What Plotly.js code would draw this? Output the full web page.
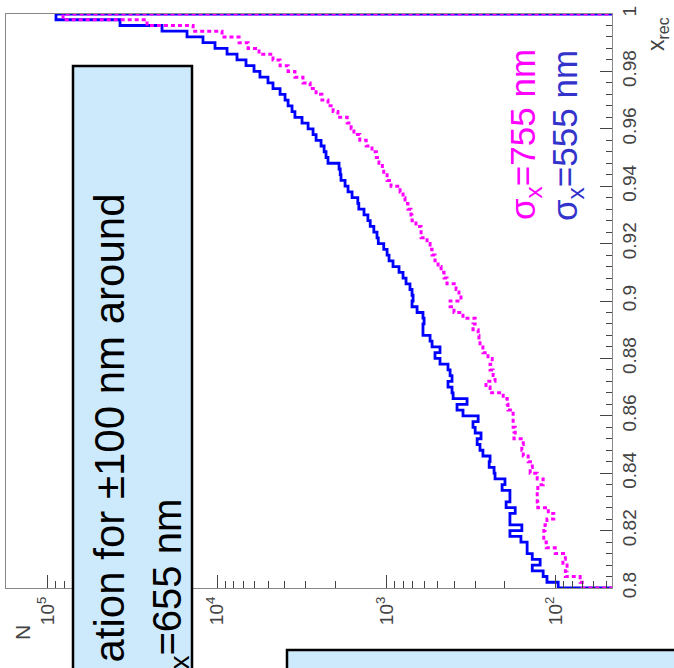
<!DOCTYPE html>
<html><head><meta charset="utf-8">
<script src="https://cdn.plot.ly/plotly-3.0.1.min.js"></script>
<style>html,body{margin:0;padding:0;background:#fff;overflow:hidden}#chart{width:674px;height:668px}</style>
</head><body><div id="chart"></div>
<script>
// histogram binning of x_rec
const xrecMin = 0.8;
const binWidth = 0.002;
// counts per bin, bin 1 (x_rec 0.800-0.802) ... bin 100 (0.998-1.000)
const n555 = [97,113,119,138,124,138,148,148,161,187,
  159,187,187,174,197,187,187,208,200,229,
  232,248,245,270,281,292,277,300,309,288,
  354,384,335,405,411,434,411,422,434,484,
  518,484,539,554,610,610,601,610,661,708,
  698,708,728,768,800,845,917,968,994,1040,
  1120,1140,1190,1250,1290,1360,1460,1480,1600,1690,
  1760,1860,1880,1910,2220,2280,2340,2440,2610,2720,
  2910,3160,3480,3620,3820,3980,4260,4690,5020,5600,
  6070,6770,7650,8760,10320,12150,15100,21210,37550,89700];
const n755 = [70,72,88,86,91,88,101,114,118,118,
  116,113,103,111,128,129,129,128,119,129,
  142,138,146,156,159,156,177,174,179,179,
  179,192,194,205,245,259,229,235,245,238,
  252,270,281,285,288,309,300,354,400,422,
  364,374,389,440,458,477,497,518,539,554,
  577,626,626,671,708,718,748,779,800,833,
  942,994,1040,1060,1110,1150,1220,1320,1440,1560,
  1620,1710,1940,2070,2220,2410,2610,2830,3120,3480,
  3820,4260,4690,5670,6580,7440,9380,13900,26000,81500];
// axis ticks
const xrecTicks = [0.8,0.82,0.84,0.86,0.88,0.9,0.92,0.94,0.96,0.98,1];
const xrecTickText = ['0.8','0.82','0.84','0.86','0.88','0.9','0.92','0.94','0.96','0.98','1'];
const nTicks = [1e2,1e3,1e4,1e5];
const nTickText = ['10<sup>2</sup>','10<sup>3</sup>','10<sup>4</sup>','10<sup>5</sup>'];
const decades = [10,100,1000,10000,100000];
const mantissas = [2,3,4,5,6,7,8,9];

const nMinor = [];
decades.forEach(d => mantissas.forEach(m => nMinor.push(d*m)));

function stepTrace(counts, color, width, dash) {
  const OFF = 10; // below the visible N range, closes the histogram
  const x = [OFF], y = [xrecMin];
  counts.forEach((c, i) => { x.push(c); y.push(+(xrecMin + i*binWidth).toFixed(4)); });
  x.push(OFF); y.push(+(xrecMin + counts.length*binWidth).toFixed(4));
  return {type:'scatter', mode:'lines', x:x, y:y, hoverinfo:'skip',
    line:{shape:'vh', color:color, width:width, dash:dash}};
}

const FONT = 'Liberation Sans, Arial, Helvetica, sans-serif';
const px = v => (v-6)/606, py = v => (588-v)/574;

const data = [
  stepTrace(n555, '#0000ff', 2.8, 'solid'),
  stepTrace(n755, '#ff00ff', 3, '4px,3px')
];

const layout = {
  width:674, height:668,
  margin:{l:6, r:62, t:14, b:80, pad:0},
  paper_bgcolor:'#fff', plot_bgcolor:'#fff',
  showlegend:false,
  xaxis:{type:'log', range:[5.248,1.669], autorange:false, showgrid:false, zeroline:false,
    showline:true, mirror:true, linecolor:'#888', linewidth:1,
    ticks:'inside', ticklen:13, tickwidth:1, tickcolor:'#444',
    tickmode:'array', tickvals:nTicks, ticktext:nTickText, tickangle:-90,
    tickfont:{family:FONT, size:19, color:'#444'},
    minor:{ticks:'inside', ticklen:7, tickwidth:1, tickcolor:'#444', tickmode:'array', tickvals:nMinor}},
  yaxis:{range:[0.8,1.0], autorange:false, side:'right', showgrid:false, zeroline:false,
    showline:true, mirror:true, linecolor:'#888', linewidth:1,
    ticks:'inside', ticklen:12, tickwidth:1, tickcolor:'#444',
    tickmode:'array', tickvals:xrecTicks, ticktext:xrecTickText, tickangle:-90,
    tickfont:{family:FONT, size:19, color:'#444'},
    minor:{ticks:'inside', ticklen:6, tickwidth:1, tickcolor:'#444', dtick:0.004, tick0:0.8}},
  shapes:[
    {type:'rect', xref:'paper', yref:'paper', x0:px(73), x1:px(192), y0:py(720), y1:py(66),
      fillcolor:'#cdeafc', line:{color:'#000', width:2.5}, layer:'above'},
    {type:'rect', xref:'paper', yref:'paper', x0:px(287), x1:px(720), y0:py(720), y1:py(650),
      fillcolor:'#cdeafc', line:{color:'#000', width:2.5}, layer:'above'}
  ],
  annotations:[
    {xref:'paper', yref:'paper', x:px(525), y:py(135), text:'σ<sub>x</sub>=755 nm', showarrow:false,
      textangle:-90, xanchor:'center', yanchor:'middle', font:{family:FONT, size:35, color:'#ff00ff'}},
    {xref:'paper', yref:'paper', x:px(567), y:py(136), text:'σ<sub>x</sub>=555 nm', showarrow:false,
      textangle:-90, xanchor:'center', yanchor:'middle', font:{family:FONT, size:35, color:'#3333cc'}},
    {xref:'paper', yref:'paper', x:px(22), y:py(633), text:'N', showarrow:false,
      textangle:-90, xanchor:'center', yanchor:'middle', font:{family:FONT, size:21, color:'#444'}},
    {xref:'paper', yref:'paper', x:px(657), y:py(34), text:'x<sub>rec</sub>', showarrow:false,
      textangle:-90, xanchor:'center', yanchor:'middle', font:{family:FONT, size:23, color:'#444'}},
    {xref:'paper', yref:'paper', x:px(109), y:py(192), text:'ation for ±100 nm around', showarrow:false,
      textangle:-90, xanchor:'center', yanchor:'top', font:{family:FONT, size:42, color:'#000'}},
    {xref:'paper', yref:'paper', x:px(169), y:py(497), text:'<sub>x</sub>=655 nm', showarrow:false,
      textangle:-90, xanchor:'center', yanchor:'top', font:{family:FONT, size:40, color:'#000'}}
  ]
};

Plotly.newPlot('chart', data, layout, {staticPlot:true, displayModeBar:false});
</script>
</body></html>
